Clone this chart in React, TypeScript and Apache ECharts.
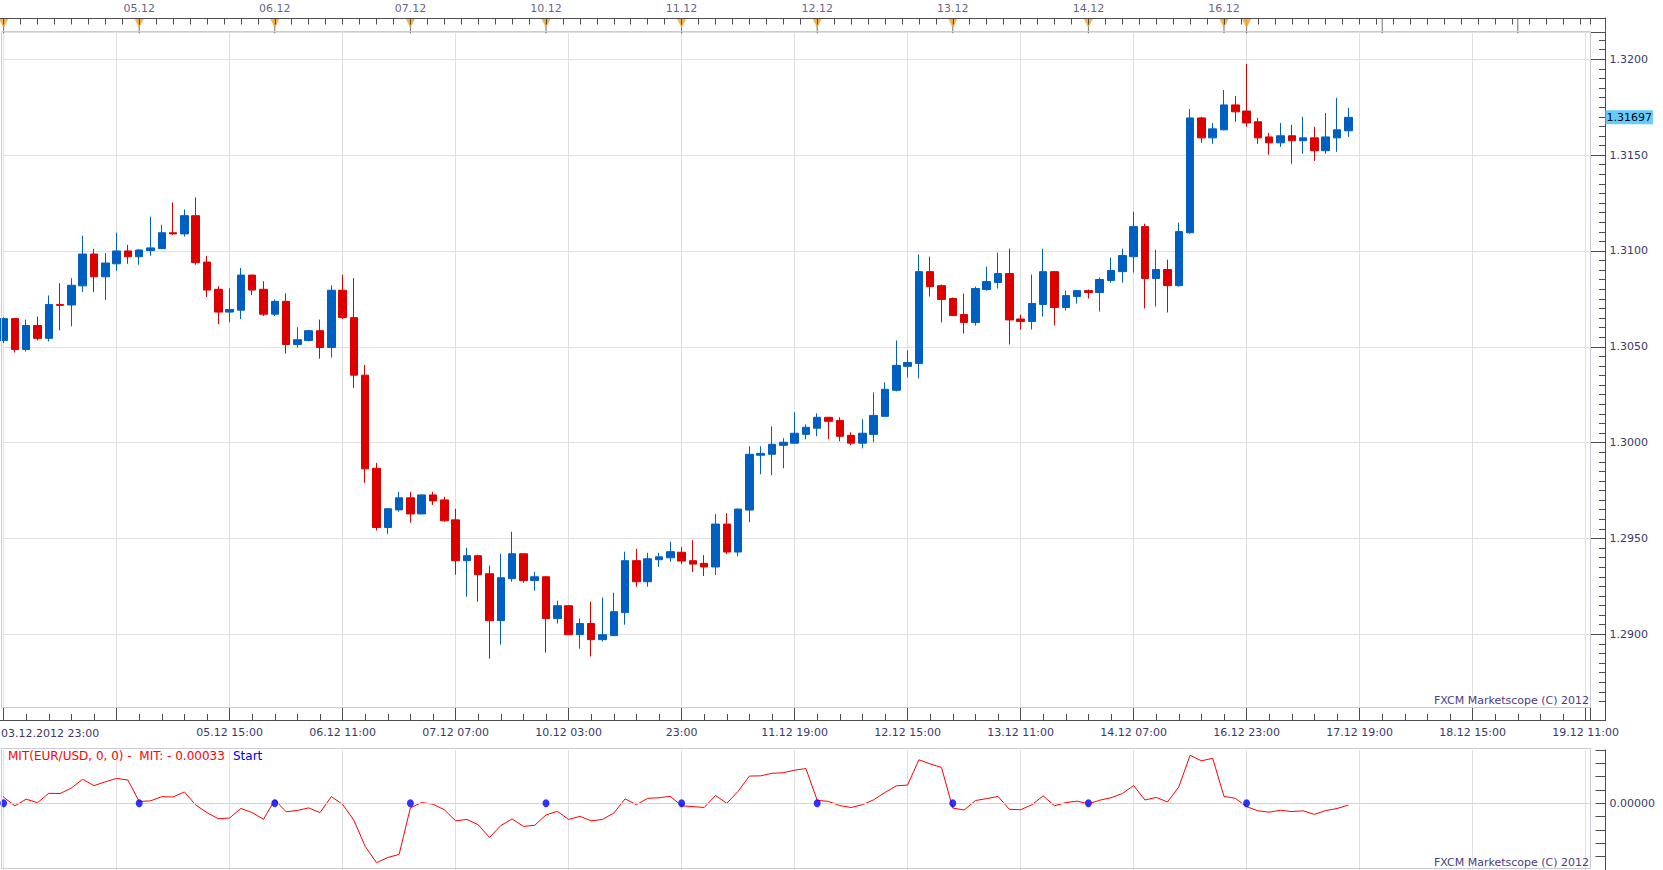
import React, { useEffect, useRef } from 'react';
import * as echarts from 'echarts';

// ---------- data (2-hour EUR/USD candles, index 0 = 03.12.2012 23:00) ----------
const opens = [
  1.30533, 1.30647, 1.30486, 1.30611, 1.30544, 1.30721, 1.30718, 1.30818, 1.30984, 1.30865,
  1.30933, 1.31000, 1.30970, 1.31002, 1.31012, 1.31095, 1.31089, 1.31184, 1.30942, 1.30800,
  1.30681, 1.30691, 1.30874, 1.30800, 1.30670, 1.30737, 1.30512, 1.30533, 1.30584, 1.30496,
  1.30795, 1.30652, 1.30352, 1.29866, 1.29557, 1.29649, 1.29712, 1.29628, 1.29727, 1.29701,
  1.29597, 1.29384, 1.29410, 1.29316, 1.29071, 1.29290, 1.29420, 1.29280, 1.29300, 1.29082,
  1.29149, 1.28998, 1.29056, 1.28972, 1.28993, 1.29113, 1.29384, 1.29274, 1.29389, 1.29399,
  1.29428, 1.29384, 1.29370, 1.29351, 1.29575, 1.29429, 1.29648, 1.29934, 1.29939, 1.29986,
  1.29997, 1.30043, 1.30075, 1.30132, 1.30116, 1.30038, 1.29997, 1.30043, 1.30137, 1.30273,
  1.30398, 1.30413, 1.30892, 1.30819, 1.30752, 1.30668, 1.30627, 1.30799, 1.30835, 1.30882,
  1.30645, 1.30632, 1.30721, 1.30892, 1.30705, 1.30762, 1.30793, 1.30783, 1.30846, 1.30892,
  1.30970, 1.31127, 1.30856, 1.30903, 1.30819, 1.31095, 1.31694, 1.31590, 1.31632, 1.31762,
  1.31730, 1.31674, 1.31595, 1.31564, 1.31601, 1.31575, 1.31590, 1.31523, 1.31590, 1.31627,
];
const highs = [
  1.30654, 1.30650, 1.30642, 1.30658, 1.30768, 1.30832, 1.30858, 1.31079, 1.31011, 1.30989,
  1.31095, 1.31032, 1.31008, 1.31179, 1.31137, 1.31253, 1.31216, 1.31279, 1.30974, 1.30816,
  1.30805, 1.30911, 1.30876, 1.30842, 1.30747, 1.30779, 1.30602, 1.30589, 1.30642, 1.30821,
  1.30876, 1.30858, 1.30405, 1.29894, 1.29656, 1.29743, 1.29743, 1.29729, 1.29743, 1.29717,
  1.29655, 1.29451, 1.29415, 1.29358, 1.29420, 1.29535, 1.29422, 1.29326, 1.29302, 1.29175,
  1.29152, 1.29082, 1.29170, 1.29191, 1.29217, 1.29431, 1.29446, 1.29425, 1.29425, 1.29483,
  1.29455, 1.29491, 1.29413, 1.29627, 1.29632, 1.29656, 1.29981, 1.29981, 1.30085, 1.30023,
  1.30158, 1.30095, 1.30153, 1.30134, 1.30132, 1.30054, 1.30122, 1.30262, 1.30314, 1.30533,
  1.30481, 1.30981, 1.30970, 1.30825, 1.30757, 1.30778, 1.30814, 1.30918, 1.30991, 1.31012,
  1.30668, 1.30877, 1.31012, 1.30895, 1.30793, 1.30795, 1.30799, 1.30861, 1.30965, 1.31012,
  1.31205, 1.31142, 1.31007, 1.30955, 1.31148, 1.31741, 1.31700, 1.31668, 1.31840, 1.31809,
  1.31976, 1.31694, 1.31616, 1.31668, 1.31658, 1.31700, 1.31648, 1.31720, 1.31799, 1.31747,
];
const lows = [
  1.30519, 1.30470, 1.30475, 1.30533, 1.30528, 1.30586, 1.30607, 1.30786, 1.30786, 1.30744,
  1.30896, 1.30933, 1.30928, 1.30975, 1.31010, 1.31084, 1.31075, 1.30928, 1.30760, 1.30618,
  1.30628, 1.30644, 1.30770, 1.30660, 1.30660, 1.30465, 1.30496, 1.30528, 1.30438, 1.30444,
  1.30645, 1.30285, 1.29790, 1.29542, 1.29524, 1.29639, 1.29582, 1.29626, 1.29675, 1.29587,
  1.29311, 1.29196, 1.29170, 1.28873, 1.28946, 1.29274, 1.29269, 1.29227, 1.28904, 1.29056,
  1.28996, 1.28925, 1.28884, 1.28962, 1.28990, 1.29050, 1.29248, 1.29248, 1.29352, 1.29378,
  1.29366, 1.29325, 1.29304, 1.29309, 1.29418, 1.29408, 1.29585, 1.29835, 1.29830, 1.29866,
  1.29995, 1.30017, 1.30033, 1.30017, 1.30007, 1.29986, 1.29970, 1.30002, 1.30135, 1.30267,
  1.30340, 1.30335, 1.30762, 1.30627, 1.30661, 1.30569, 1.30611, 1.30793, 1.30804, 1.30512,
  1.30590, 1.30590, 1.30658, 1.30611, 1.30689, 1.30726, 1.30752, 1.30684, 1.30835, 1.30835,
  1.30887, 1.30700, 1.30710, 1.30679, 1.30814, 1.31090, 1.31564, 1.31559, 1.31630, 1.31674,
  1.31648, 1.31559, 1.31502, 1.31543, 1.31455, 1.31507, 1.31470, 1.31507, 1.31517, 1.31595,
];
const closes = [
  1.30647, 1.30486, 1.30611, 1.30544, 1.30721, 1.30716, 1.30821, 1.30984, 1.30865, 1.30937,
  1.31000, 1.30970, 1.31005, 1.31016, 1.31095, 1.31089, 1.31184, 1.30939, 1.30796, 1.30681,
  1.30695, 1.30874, 1.30796, 1.30670, 1.30737, 1.30512, 1.30537, 1.30584, 1.30496, 1.30795,
  1.30652, 1.30352, 1.29863, 1.29557, 1.29655, 1.29712, 1.29628, 1.29727, 1.29696, 1.29592,
  1.29384, 1.29410, 1.29311, 1.29071, 1.29295, 1.29420, 1.29280, 1.29300, 1.29082, 1.29149,
  1.28998, 1.29056, 1.28972, 1.28998, 1.29118, 1.29384, 1.29274, 1.29394, 1.29404, 1.29431,
  1.29382, 1.29366, 1.29351, 1.29575, 1.29429, 1.29653, 1.29939, 1.29944, 1.29991, 1.30002,
  1.30049, 1.30080, 1.30132, 1.30111, 1.30033, 1.29997, 1.30049, 1.30142, 1.30278, 1.30403,
  1.30418, 1.30892, 1.30814, 1.30747, 1.30663, 1.30627, 1.30804, 1.30840, 1.30882, 1.30640,
  1.30632, 1.30726, 1.30892, 1.30705, 1.30767, 1.30793, 1.30783, 1.30851, 1.30898, 1.30976,
  1.31127, 1.30856, 1.30903, 1.30819, 1.31101, 1.31694, 1.31590, 1.31637, 1.31762, 1.31726,
  1.31668, 1.31590, 1.31564, 1.31601, 1.31575, 1.31590, 1.31523, 1.31595, 1.31632, 1.31697,
];

// MIT indicator, first value belongs to candle index -1
const mitFirstIndex = -1;
const mitValues = [
  0.00400,
  0.00114, -0.00047, 0.00078, 0.00011, 0.00188, 0.00183, 0.00288, 0.00451, 0.00332, 0.00404,
  0.00467, 0.00437, 0.00035, 0.00046, 0.00125, 0.00119, 0.00214, -0.00031, -0.00174, -0.00289,
  -0.00275, -0.00096, -0.00174, -0.00300, 0.00067, -0.00158, -0.00133, -0.00086, -0.00174, 0.00125,
  -0.00018, -0.00318, -0.00807, -0.01113, -0.01015, -0.00958, -0.00084, 0.00015, -0.00016, -0.00120,
  -0.00328, -0.00302, -0.00401, -0.00641, -0.00417, -0.00292, -0.00432, -0.00412, -0.00218, -0.00151,
  -0.00302, -0.00244, -0.00328, -0.00302, -0.00182, 0.00084, -0.00026, 0.00094, 0.00104, 0.00131,
  -0.00046, -0.00062, -0.00077, 0.00147, 0.00001, 0.00225, 0.00511, 0.00516, 0.00563, 0.00574,
  0.00621, 0.00652, 0.00057, 0.00036, -0.00042, -0.00078, -0.00026, 0.00067, 0.00203, 0.00328,
  0.00343, 0.00817, 0.00739, 0.00672, -0.00089, -0.00125, 0.00052, 0.00088, 0.00130, -0.00112,
  -0.00120, -0.00026, 0.00140, -0.00047, 0.00015, 0.00041, -0.00010, 0.00058, 0.00105, 0.00183,
  0.00334, 0.00063, 0.00110, 0.00026, 0.00308, 0.00901, 0.00797, 0.00844, 0.00130, 0.00094,
  -0.00062, -0.00140, -0.00166, -0.00129, -0.00155, -0.00140, -0.00207, -0.00135, -0.00098, -0.00033,
];

const startDots = [0, 12, 24, 36, 48, 60, 72, 84, 96, 110];
const dayMarks = [0, 12, 24, 36, 48, 60, 72, 84, 96, 108, 110];
const dayLabels = ['', '05.12', '06.12', '07.12', '10.12', '11.12', '12.12', '13.12', '14.12', '16.12', ''];
const futureDayTicks = [122, 134];
const timeLabels = [
  '03.12.2012 23:00', '', '05.12 15:00', '06.12 11:00', '07.12 07:00', '10.12 03:00', '23:00',
  '11.12 19:00', '12.12 15:00', '13.12 11:00', '14.12 07:00', '16.12 23:00', '17.12 19:00',
  '18.12 15:00', '19.12 11:00',
];
const lastPrice = 1.31697;
const legendText = 'MIT(EUR/USD, 0, 0) -  MIT: - 0.00033';
const legendStart = 'Start';
const copyright = 'FXCM Marketscope (C) 2012';

// ---------- styles ----------
const BLUE = '#0060c2';
const RED = '#dd0000';
const GRID_C = '#e0e0e0';
const BORDER_C = '#c7ccd6';
const AXIS_C = '#4d4d4d';
const TEXT_C = '#38386a';
const FONT = 'DejaVu Sans';
const X_MAX = 140.434;
const G_LEFT = 3.6;
const G_RIGHT = 72.5;

function buildOption(): any {
  const candleData = opens.map((o, i) => [i, o, closes[i], lows[i], highs[i]]);
  const mitData = mitValues.map((v, k) => [k + mitFirstIndex, v]);
  const noZero = { onZero: false };

  return {
    animation: false,
    backgroundColor: '#ffffff',
    textStyle: { fontFamily: FONT, fontSize: 11 },
    grid: [
      { left: G_LEFT, right: G_RIGHT, top: 32, height: 698.1 },
      { left: G_LEFT, right: G_RIGHT, top: 707, height: 13 },
      { left: G_LEFT, right: G_RIGHT, top: 750, height: 120 },
      { left: G_LEFT, right: G_RIGHT, top: 18, height: 13 },
    ],
    xAxis: [
      {
        type: 'value', gridIndex: 0, position: 'bottom', min: 0, max: X_MAX, interval: 10,
        axisLine: { show: false, ...noZero }, axisTick: { show: false }, axisLabel: { show: false },
        splitLine: { show: true, lineStyle: { color: GRID_C, width: 1 } },
      },
      {
        type: 'value', gridIndex: 1, position: 'bottom', min: 0, max: X_MAX, interval: 10, z: 10,
        axisLine: { show: false, ...noZero },
        axisTick: { show: true, inside: true, length: 13, lineStyle: { color: AXIS_C, width: 1 } },
        axisLabel: {
          show: true, margin: 7, color: TEXT_C, fontFamily: FONT, fontSize: 11,
          formatter: (v: number) => {
            const k = Math.round(v / 10);
            if (Math.abs(v - k * 10) > 1e-6 || k === 0) return '';
            return timeLabels[k] ?? '';
          },
        },
        splitLine: { show: false },
      },
      {
        type: 'value', gridIndex: 1, position: 'bottom', min: 0, max: X_MAX, interval: 2, z: 10,
        axisLine: { show: false, ...noZero },
        axisTick: { show: true, inside: true, length: 6, lineStyle: { color: AXIS_C, width: 1 } },
        axisLabel: { show: false },
        splitLine: { show: false },
      },
      {
        type: 'value', gridIndex: 2, position: 'bottom', min: 0, max: X_MAX, interval: 10,
        axisLine: { show: false, ...noZero }, axisTick: { show: false }, axisLabel: { show: false },
        splitLine: { show: true, lineStyle: { color: GRID_C, width: 1 } },
      },
      {
        type: 'value', gridIndex: 3, position: 'top', min: 0, max: X_MAX, interval: 1.5, z: 10,
        axisLine: { show: false, ...noZero },
        axisTick: { show: true, inside: true, length: 6.5, lineStyle: { color: AXIS_C, width: 1 } },
        axisLabel: { show: false },
        splitLine: { show: false },
      },
    ],
    yAxis: [
      {
        type: 'value', gridIndex: 0, position: 'right', offset: 15,
        min: 1.285, max: 1.321424, interval: 0.005,
        axisLine: { show: true, ...noZero, lineStyle: { color: AXIS_C, width: 1 } },
        axisTick: { show: true, inside: true, length: 15, lineStyle: { color: AXIS_C, width: 1 } },
        axisLabel: {
          show: true, margin: 4, color: TEXT_C, fontFamily: FONT, fontSize: 11,
          formatter: (v: number) => {
            const r = Math.round(v * 200);
            if (Math.abs(v * 200 - r) > 1e-6 || v > 1.3201 || v < 1.2875) return '';
            return v.toFixed(4);
          },
        },
        splitLine: { show: true, lineStyle: { color: GRID_C, width: 1 } },
      },
      {
        type: 'value', gridIndex: 0, position: 'right', offset: 15,
        min: 1.285, max: 1.321424, interval: 0.0005,
        axisLine: { show: false, ...noZero },
        axisTick: { show: true, inside: true, length: 6.5, lineStyle: { color: AXIS_C, width: 1 } },
        axisLabel: { show: false },
        splitLine: { show: false },
      },
      {
        type: 'value', gridIndex: 1, position: 'right', offset: 15, min: 0, max: 1, z: 10,
        axisLine: { show: true, ...noZero, lineStyle: { color: AXIS_C, width: 1 } },
        axisTick: { show: false }, axisLabel: { show: false }, splitLine: { show: false },
      },
      {
        type: 'value', gridIndex: 2, position: 'right', offset: 15,
        min: -0.0125, max: 0.01, interval: 0.0025,
        axisLine: { show: true, ...noZero, lineStyle: { color: AXIS_C, width: 1 } },
        axisTick: { show: true, inside: true, length: 10, lineStyle: { color: AXIS_C, width: 1 } },
        axisLabel: {
          show: true, margin: 4, color: TEXT_C, fontFamily: FONT, fontSize: 11,
          formatter: (v: number) => (Math.abs(v) < 1e-9 ? '0.00000' : ''),
        },
        splitLine: { show: false },
      },
      {
        type: 'value', gridIndex: 3, position: 'right', offset: 15, min: 0, max: 13,
        axisLine: { show: true, ...noZero, lineStyle: { color: AXIS_C, width: 1 } },
        axisTick: { show: false }, axisLabel: { show: false }, splitLine: { show: false },
      },
    ],
    series: [
      {
        type: 'candlestick',
        xAxisIndex: 0, yAxisIndex: 0,
        data: candleData,
        encode: { x: 0, y: [1, 2, 3, 4] },
        barWidth: 8,
        clip: false,
        itemStyle: {
          color: BLUE, color0: RED, borderColor: BLUE, borderColor0: RED, borderWidth: 1,
        },
        markLine: {
          silent: true,
          precision: 5,
          symbol: ['none', 'none'],
          lineStyle: { color: 'rgba(0,0,0,0)', width: 0 },
          label: {
            show: true, position: 'end', distance: 15,
            formatter: () => lastPrice.toFixed(5),
            backgroundColor: '#66ccff', color: '#000000',
            fontFamily: FONT, fontSize: 11, padding: [2, 1, 1, 1],
          },
          data: [{ yAxis: lastPrice }],
        },
      },
      {
        type: 'line',
        xAxisIndex: 3, yAxisIndex: 3,
        data: mitData,
        showSymbol: false,
        clip: false,
        lineStyle: { color: '#ff0000', width: 1 },
        itemStyle: { color: '#ff0000' },
        z: 3,
        markLine: {
          silent: true,
          precision: 5,
          symbol: ['none', 'none'],
          lineStyle: { color: '#d6d6d6', width: 1, type: 'solid' },
          label: { show: false },
          data: [{ yAxis: 0 }],
        },
      },
      {
        type: 'scatter',
        xAxisIndex: 3, yAxisIndex: 3,
        data: startDots.map((d) => [d, 0]),
        symbol: 'circle',
        symbolSize: [7, 8],
        clip: false,
        itemStyle: { color: '#0000ff' },
        z: 5,
      },
      {
        type: 'scatter',
        xAxisIndex: 4, yAxisIndex: 4,
        data: [...dayMarks, ...futureDayTicks].map((d) => [d, 5.2]),
        symbol: 'rect',
        symbolSize: [1, 15],
        clip: false,
        itemStyle: { color: AXIS_C },
        z: 4,
      },
      {
        type: 'scatter',
        xAxisIndex: 4, yAxisIndex: 4,
        data: dayMarks.map((d, k) => ({ value: [d, 7.5], labelText: dayLabels[k] })),
        symbol: 'path://M0,0 L10,0 L5,10 Z',
        symbolSize: [9, 9],
        clip: false,
        itemStyle: { color: '#f5a31e' },
        label: {
          show: true, position: 'top', distance: 5, color: TEXT_C,
          fontFamily: FONT, fontSize: 11,
          formatter: (p: any) => p.data.labelText,
        },
        z: 6,
      },
    ],
    graphic: [
      { type: 'rect', z: 5, shape: { x: 0, y: 708, width: 1663, height: 40 }, style: { fill: '#ffffff' } },
      {
        type: 'rect', z: 20, shape: { x: 1.5, y: 31.5, width: 1589, height: 676 },
        style: { fill: 'none', stroke: BORDER_C, lineWidth: 1 },
      },
      {
        type: 'rect', z: 20, shape: { x: 1.5, y: 748.5, width: 1589, height: 120 },
        style: { fill: 'none', stroke: BORDER_C, lineWidth: 1 },
      },
      {
        type: 'line', z: 20, shape: { x1: 0, y1: 18.5, x2: 1606, y2: 18.5 },
        style: { stroke: AXIS_C, lineWidth: 1 },
      },
      {
        type: 'line', z: 20, shape: { x1: 0, y1: 720.5, x2: 1606, y2: 720.5 },
        style: { stroke: AXIS_C, lineWidth: 1 },
      },
      {
        type: 'text', z: 20, x: 1, y: 733.5,
        style: { text: timeLabels[0], fill: TEXT_C, font: `11px "${FONT}"`, align: 'left', verticalAlign: 'middle' },
      },
      {
        type: 'text', z: 20, x: 1589, y: 700.5,
        style: { text: copyright, fill: '#4a3c86', font: `11px "${FONT}"`, align: 'right', verticalAlign: 'middle' },
      },
      {
        type: 'text', z: 20, x: 1589, y: 862,
        style: { text: copyright, fill: '#4a3c86', font: `11px "${FONT}"`, align: 'right', verticalAlign: 'middle' },
      },
      {
        type: 'text', z: 20, x: 8, y: 756,
        style: { text: legendText, fill: '#ff0000', font: `12px "${FONT}"`, align: 'left', verticalAlign: 'middle' },
      },
      {
        type: 'text', z: 20, x: 233, y: 756,
        style: { text: legendStart, fill: '#0000ff', font: `12px "${FONT}"`, align: 'left', verticalAlign: 'middle' },
      },
    ],
  };
}

export default function App() {
  const ref = useRef<HTMLDivElement>(null);
  useEffect(() => {
    if (!ref.current) return;
    const chart = echarts.init(ref.current, undefined, { renderer: 'svg' });
    chart.setOption(buildOption());
    return () => chart.dispose();
  }, []);
  return (
    <div
      ref={ref}
      style={{ position: 'fixed', left: 0, top: 0, width: 1663, height: 870, background: '#ffffff' }}
    />
  );
}
